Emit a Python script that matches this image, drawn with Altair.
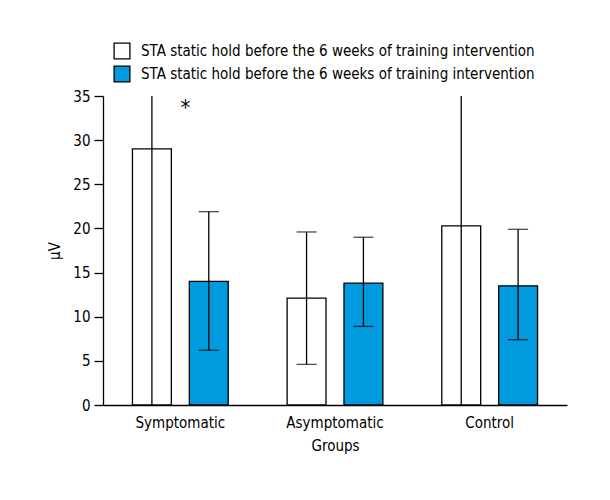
import altair as alt
import pandas as pd

groups = ["Symptomatic", "Asymptomatic", "Control"]
series = ["pre", "post"]
legend_labels = ["STA static hold before the 6 weeks of training intervention",
                 "STA static hold before the 6 weeks of training intervention"]
means_pre = [29.0, 12.1, 20.3]
means_post = [14.0, 13.8, 13.5]
upper_pre = [60.0, 19.6, 42.3]
lower_pre = [-2.0, 4.6, -1.7]
upper_post = [21.9, 19.0, 19.9]
lower_post = [6.2, 8.9, 7.4]
colors = ["#ffffff", "#009ade"]

rows = []
for i, g in enumerate(groups):
    rows.append({"group": g, "series": "pre", "mean": means_pre[i], "lo": lower_pre[i], "hi": upper_pre[i]})
    rows.append({"group": g, "series": "post", "mean": means_post[i], "lo": lower_post[i], "hi": upper_post[i]})
df = pd.DataFrame(rows)

FONT = "DejaVu Sans Condensed"

x = alt.X("group:N", sort=groups, scale=alt.Scale(paddingInner=0, paddingOuter=0),
          axis=alt.Axis(title="Groups", labelAngle=0, ticks=False, domainColor="black",
                        labelFontSize=15, labelFont=FONT, labelColor="black", labelPadding=10,
                        titleFontSize=15, titleFont=FONT, titleFontWeight="normal", titleColor="black",
                        titlePadding=8, grid=False, domainWidth=1.3))
xo = alt.XOffset("series:N", sort=series, scale=alt.Scale(paddingInner=0.316, paddingOuter=0.518))
yscale = alt.Scale(domain=[0, 35], nice=False)

label_expr = "datum.value === 'pre' ? '%s' : '%s'" % (legend_labels[0], legend_labels[1])

bars = alt.Chart(df).mark_bar(stroke="black", strokeWidth=1.3).encode(
    x=x, xOffset=xo,
    y=alt.Y("mean:Q", scale=yscale,
            axis=alt.Axis(title="µV", values=[0, 5, 10, 15, 20, 25, 30, 35], grid=False,
                          tickSize=9, tickColor="black", domainColor="black", domainWidth=1.3,
                          tickWidth=1.3, labelFontSize=15, labelFont=FONT, labelColor="black",
                          labelPadding=4, titleFontSize=15, titleFont=FONT,
                          titleFontWeight="normal", titleColor="black", titlePadding=10)),
    fill=alt.Fill("series:N", sort=series, scale=alt.Scale(domain=series, range=colors),
                  legend=alt.Legend(title=None, orient="none", legendX=10, legendY=-54,
                                    symbolType="square", symbolSize=250, symbolStrokeColor="black",
                                    symbolStrokeWidth=1.3, labelFontSize=15, labelFont=FONT,
                                    labelColor="black", labelExpr=label_expr, rowPadding=1,
                                    labelLimit=600, labelOffset=10)),
)

err = alt.Chart(df).mark_rule(color="black", strokeWidth=1.3, clip=True).encode(
    x=x, xOffset=xo, y=alt.Y("lo:Q", scale=yscale), y2="hi:Q")

cap_hi = alt.Chart(df).mark_tick(color="black", thickness=1.3, size=20, orient="horizontal", clip=True).encode(
    x=x, xOffset=xo, y=alt.Y("hi:Q", scale=yscale))
cap_lo = alt.Chart(df).mark_tick(color="black", thickness=1.3, size=20, orient="horizontal", clip=True).encode(
    x=x, xOffset=xo, y=alt.Y("lo:Q", scale=yscale))

star_df = pd.DataFrame({"group": ["Symptomatic"], "y": [33.6], "t": ["*"]})
star = alt.Chart(star_df).mark_text(fontSize=22, font=FONT, color="black", dx=5, baseline="middle").encode(
    x=x, y=alt.Y("y:Q", scale=yscale), text="t:N")

chart = alt.layer(bars, err, cap_hi, cap_lo, star).properties(
    width=464, height=309, autosize=alt.AutoSizeParams(type="none"),
    padding={"left": 95, "top": 88, "right": 35, "bottom": 70}
).configure_view(stroke=None)

chart.save("out.html", embed_options={"renderer": "svg", "actions": False})
